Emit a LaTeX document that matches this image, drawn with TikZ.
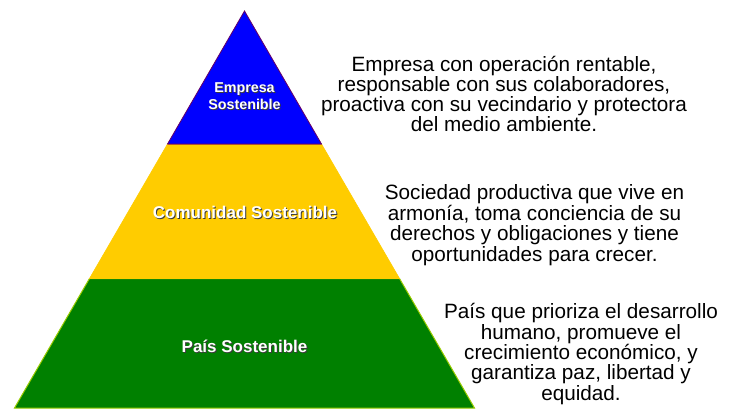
\documentclass[tikz,border=0pt]{standalone}
\usepackage{fontspec}
\setmainfont{Liberation Sans}
\definecolor{topblue}{RGB}{0,0,255}
\definecolor{topedge}{RGB}{102,0,102}
\definecolor{midyellow}{RGB}{255,204,0}
\definecolor{midedge}{RGB}{240,140,0}
\definecolor{basegreen}{RGB}{0,128,0}
\definecolor{baseedge}{RGB}{153,204,0}
\definecolor{shadowgray}{RGB}{60,60,60}
\begin{document}
\begin{tikzpicture}[x=1pt,y=-1pt,
  lab/.style={text=white, font=\bfseries\fontsize{17}{19}\selectfont, align=center, inner sep=0pt},
  labsmall/.style={text=white, font=\bfseries\fontsize{14.3}{17}\selectfont, align=center, inner sep=0pt},
  shad/.style={text=shadowgray},
  desc/.style={align=center, inner sep=0pt, text=black}]
\useasboundingbox (0,0) rectangle (737,408);
% corners
\coordinate (apex) at (244.5,11);
\coordinate (bl1) at (167.5,144);
\coordinate (br1) at (321.5,144);
\coordinate (bl2) at (89.5,278.5);
\coordinate (br2) at (399.5,278.5);
\coordinate (bl3) at (14.5,408);
\coordinate (br3) at (474.5,408);
% layers
\filldraw[fill=basegreen, draw=baseedge, line width=1pt, line join=miter] (bl2) -- (br2) -- (br3) -- (bl3) -- cycle;
\filldraw[fill=midyellow, draw=midyellow, line width=0.6pt] (bl1) -- (br1) -- (br2) -- (bl2) -- cycle;
\draw[midedge, line width=0.8pt] (bl1) -- (br1);
\filldraw[fill=topblue, draw=topedge, line width=0.8pt, line join=miter] (apex) -- (br1) -- (bl1) -- cycle;
% labels with shadow
\node[labsmall, shad] (empS) at (245.5,97) {Empresa\\Sostenible};
\node[labsmall] (emp) at (244.5,96) {Empresa\\Sostenible};
\node[lab, shad] (comS) at (246,213) {Comunidad Sostenible};
\node[lab] (com) at (245,212) {Comunidad Sostenible};
\node[lab, shad] (paisS) at (245.5,347) {País Sostenible};
\node[lab] (pais) at (244.5,346) {País Sostenible};
% descriptions
\node[desc, font=\fontsize{20.7}{20}\selectfont] (d1) at (504,94)
  {Empresa con operación rentable,\\responsable con sus colaboradores,\\proactiva con su vecindario y protectora\\del medio ambiente.};
\node[desc, font=\fontsize{20.7}{20.5}\selectfont] (d2) at (534.5,225)
  {Sociedad productiva que vive en\\armonía, toma conciencia de su\\derechos y obligaciones y tiene\\oportunidades para crecer.};
\node[desc, font=\fontsize{20.7}{20.3}\selectfont] (d3) at (581,354)
  {País que prioriza el desarrollo\\humano, promueve el\\crecimiento económico, y\\garantiza paz, libertad y\\equidad.};
\end{tikzpicture}
\end{document}
